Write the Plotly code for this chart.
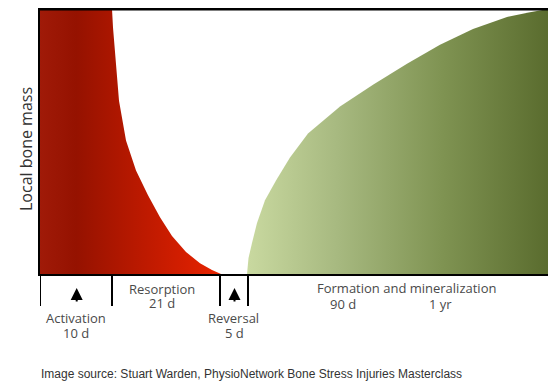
import plotly.graph_objects as go

# ---- data (x: relative time units along the cycle, y: local bone mass %) ----
resorb_x = [0, 72, 73, 75, 79, 86, 96, 108, 120, 132, 146, 160, 172, 181]
resorb_y = [100, 100, 93, 84.2, 65.4, 50.4, 39.1, 29.7, 21.4, 14.3, 8.3, 4.1, 1.5, 0]

form_x = [207, 207.5, 208.5, 212, 217, 225, 236, 250, 268, 300, 333, 367, 400, 433, 467, 490, 508]
form_y = [0, 2.5, 6.0, 11.7, 19.2, 27.8, 35.3, 44.0, 53.0, 63.2, 71.4, 79.3, 86.5, 92.5, 97.0, 98.8, 100]

phase_bounds = [0, 72, 180, 208, 509]
phase_names = ["Activation", "Resorption", "Reversal", "Formation and mineralization"]
phase_durations = ["10 d", "21 d", "5 d", "90 d", "1 yr"]

X_MAX = 509
PLOT_H = 265.0  # plot height in px, used to turn px offsets into paper units


def py(px_below):
    """paper y for a position px_below pixels under the plot bottom"""
    return -px_below / PLOT_H


fig = go.Figure()

fig.add_trace(go.Scatter(
    x=resorb_x, y=resorb_y, mode="lines", line=dict(width=0),
    fill="tozeroy",
    fillgradient=dict(type="horizontal",
                      colorscale=[[0, "#a01a08"], [0.2, "#951200"], [0.45, "#b01700"],
                                  [0.8, "#d41e00"], [1, "#e82400"]]),
    hoverinfo="skip", showlegend=False))

fig.add_trace(go.Scatter(
    x=form_x, y=form_y, mode="lines", line=dict(width=0),
    fill="tozeroy",
    fillgradient=dict(type="horizontal",
                      colorscale=[[0, "#c9d9a0"], [0.3, "#a7b980"], [0.65, "#7f9352"],
                                  [1, "#5a6c2e"]]),
    hoverinfo="skip", showlegend=False))

shapes = []
for b in phase_bounds:
    shapes.append(dict(type="line", xref="x", yref="paper", x0=b, x1=b,
                       y0=0, y1=py(32), line=dict(color="black", width=2)))
# top border of the chart box
shapes.append(dict(type="line", xref="paper", yref="paper", x0=-0.002, x1=1.002,
                   y0=0.998, y1=0.998, line=dict(color="black", width=2)))

annotations = []
lab_font = dict(family="Open Sans", size=13, color="#4a4a4a")

annotations.append(dict(x=36, y=py(44), xref="x", yref="paper", text=phase_names[0],
                        showarrow=False, font=lab_font, yanchor="middle"))
annotations.append(dict(x=36, y=py(58.5), xref="x", yref="paper", text=phase_durations[0],
                        showarrow=False, font=lab_font, yanchor="middle"))
annotations.append(dict(x=122, y=py(15), xref="x", yref="paper", text=phase_names[1],
                        showarrow=False, font=lab_font, yanchor="middle"))
annotations.append(dict(x=122, y=py(29), xref="x", yref="paper", text=phase_durations[1],
                        showarrow=False, font=lab_font, yanchor="middle"))
annotations.append(dict(x=193, y=py(44), xref="x", yref="paper", text=phase_names[2],
                        showarrow=False, font=lab_font, yanchor="middle"))
annotations.append(dict(x=194, y=py(59), xref="x", yref="paper", text=phase_durations[2],
                        showarrow=False, font=lab_font, yanchor="middle"))
annotations.append(dict(x=366, y=py(14), xref="x", yref="paper", text=phase_names[3],
                        showarrow=False, font=lab_font, yanchor="middle"))
annotations.append(dict(x=303, y=py(29.5), xref="x", yref="paper", text=phase_durations[3],
                        showarrow=False, font=lab_font, yanchor="middle"))
annotations.append(dict(x=400, y=py(29.5), xref="x", yref="paper", text=phase_durations[4],
                        showarrow=False, font=lab_font, yanchor="middle"))

for ax_x in [36.7, 194.5]:
    annotations.append(dict(x=ax_x, y=py(14), xref="x", yref="paper", text="",
                            showarrow=True, ax=0, ay=15, arrowhead=2, arrowsize=1.2,
                            arrowwidth=2, arrowcolor="black"))

annotations.append(dict(x=-14 / 509, y=125 / PLOT_H, xref="paper", yref="paper",
                        text="Local bone mass", textangle=-90, showarrow=False,
                        font=dict(family="Open Sans", size=16, color="#333333"),
                        xanchor="center", yanchor="middle"))

annotations.append(dict(x=-1 / 509, y=py(100), xref="paper", yref="paper",
                        text="Image source: Stuart Warden, PhysioNetwork Bone Stress Injuries Masterclass",
                        showarrow=False, xanchor="left", yanchor="middle",
                        font=dict(family="Liberation Sans, Arial", size=12, color="#333333")))

# the page body adds an 8px margin, so the figure is sized/positioned to compensate
fig.update_layout(
    width=548, height=376,
    margin=dict(l=32, r=7, t=1, b=110, autoexpand=False),
    paper_bgcolor="white", plot_bgcolor="white",
    shapes=shapes, annotations=annotations,
    xaxis=dict(range=[0, X_MAX], showgrid=False, zeroline=False, showticklabels=False,
               ticks="", showline=True, linecolor="black", linewidth=2, mirror=True,
               fixedrange=True),
    yaxis=dict(range=[0, 100], showgrid=False, zeroline=False, showticklabels=False,
               ticks="", showline=True, linecolor="black", linewidth=2, mirror=True,
               fixedrange=True),
)

fig.write_html("out.html")
